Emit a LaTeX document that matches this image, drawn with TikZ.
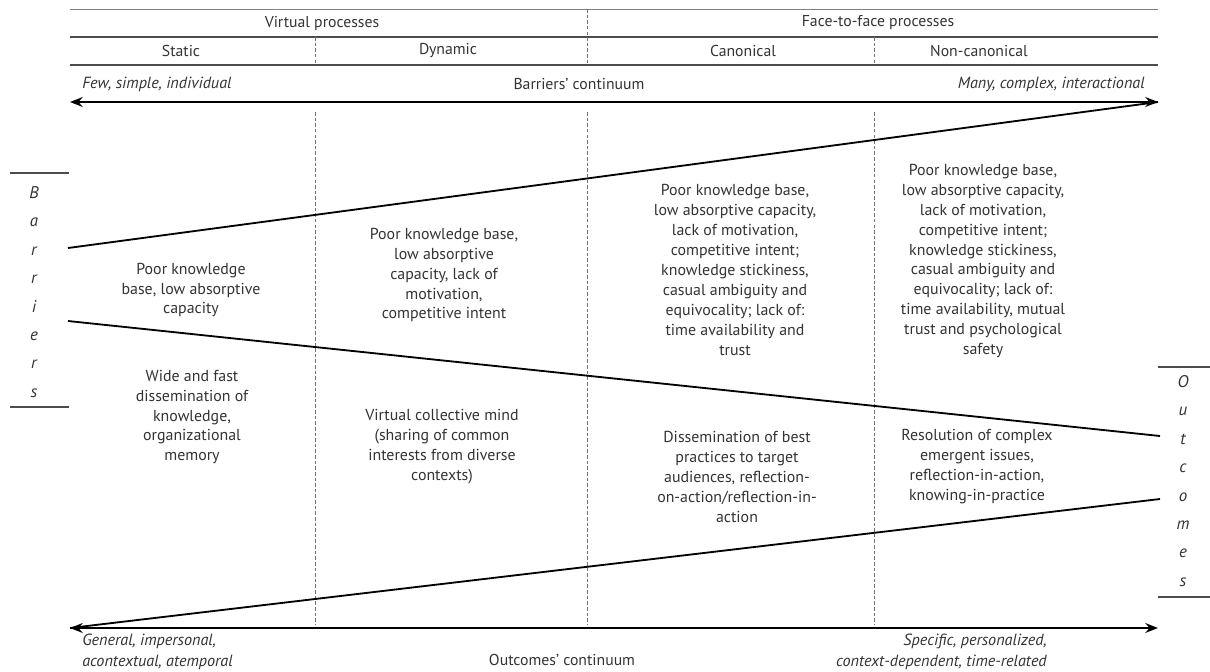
\documentclass[tikz,border=0pt]{standalone}
\usepackage{fontspec}
\setmainfont{PT Sans}
\usepackage{tikz}
\usetikzlibrary{arrows.meta}

\begin{document}
\begin{tikzpicture}[x=0.025cm, y=-0.025cm,
	rule/.style={draw=black!70, line width=0.9pt},
	sep/.style={draw=black!55, line width=0.6pt, dash pattern=on 2.5pt off 1.5pt},
	funnel/.style={draw=black, line width=1.3pt},
	arr/.style={{Stealth[length=9pt,width=7pt]}-{Stealth[length=9pt,width=7pt]}, line width=1.3pt},
	head/.style={text=black!80, font=\fontsize{11.2}{13}\selectfont},
	cell/.style={align=center, text=black!80, font=\fontsize{11.3}{14.2}\selectfont},
	side/.style={align=center, text=black!80, font=\fontsize{12}{20.2}\selectfont\itshape},
	pole/.style={text=black!80, font=\fontsize{11.5}{14.5}\selectfont\itshape, inner sep=0pt}]

	\useasboundingbox (0,0) rectangle (1210,671);

	\draw [rule, draw=black!50, line width=0.6pt] (70,9) -- (1158,9);
	\draw [rule] (70,37) -- (1158,37);
	\draw [rule] (70,65) -- (1158,65);
	\draw [sep] (587,9) -- (587,65);
	\draw [sep] (315,37) -- (315,65);
	\draw [sep] (874,37) -- (874,65);

	\node [head] (virtual) at (322,23) {Virtual processes};
	\node [head] (face) at (878,23) {Face-to-face processes};
	\node [head] (static) at (181,51) {Static};
	\node [head] (dynamic) at (448,51) {Dynamic};
	\node [head] (canon) at (743,51) {Canonical};
	\node [head] (noncanon) at (979,51) {Non-canonical};

	\node [head] (bcont) at (579,84) {Barriers' continuum};
	\node [pole, anchor=west] (few) at (82,84) {Few, simple, individual};
	\node [pole, anchor=east] (many) at (1145,84) {Many, complex, interactional};

	\coordinate (bl) at (70,102);
	\coordinate (br) at (1158,102);
	\coordinate (ol) at (70,628);
	\coordinate (or) at (1158,628);
	\coordinate (btop) at (68,248);
	\coordinate (bbot) at (68,321);
	\coordinate (otop) at (1160,436);
	\coordinate (obot) at (1160,499);

	\draw [sep] (315,112) -- (315,624);
	\draw [sep] (587,112) -- (587,624);
	\draw [sep] (874,112) -- (874,624);

	\draw [arr] (bl) -- (br);
	\draw [arr] (ol) -- (or);
	\draw [funnel] (btop) -- (br);
	\draw [funnel] (bbot) -- (otop);
	\draw [funnel] (obot) -- (ol);

	\node [side] (barriers) at (34,292) {B\\a\\r\\r\\i\\e\\r\\s};
	\draw [rule] (10,173) -- (69,173);
	\draw [rule] (10,407) -- (69,407);
	\node [side] (outcomes) at (1183,481) {O\\u\\t\\c\\o\\m\\e\\s};
	\draw [rule] (1158,367) -- (1210,367);
	\draw [rule] (1158,597) -- (1210,597);

	\node [cell] (bstatic) at (191,290) {Poor knowledge\\base, low absorptive\\capacity};
	\node [cell] (bdynamic) at (444,275) {Poor knowledge base,\\low absorptive\\capacity, lack of\\motivation,\\competitive intent};
	\node [cell] (bcanon) at (735,270) {Poor knowledge base,\\low absorptive capacity,\\lack of motivation,\\competitive intent;\\knowledge stickiness,\\casual ambiguity and\\equivocality; lack of:\\time availability and\\trust};
	\node [cell] (bnoncanon) at (983,261) {Poor knowledge base,\\low absorptive capacity,\\lack of motivation,\\competitive intent;\\knowledge stickiness,\\casual ambiguity and\\equivocality; lack of:\\time availability, mutual\\trust and psychological\\safety};

	\node [cell] (ostatic) at (192,417) {Wide and fast\\dissemination of\\knowledge,\\organizational\\memory};
	\node [cell] (odynamic) at (442,447) {Virtual collective mind\\(sharing of common\\interests from diverse\\contexts)};
	\node [cell] (ocanon) at (737,477) {Dissemination of best\\practices to target\\audiences, reflection-\\on-action/reflection-in-\\action};
	\node [cell] (ononcanon) at (977,467) {Resolution of complex\\emergent issues,\\reflection-in-action,\\knowing-in-practice};

	\node [pole, anchor=west, align=left] (general) at (82,652) {General, impersonal,\\acontextual, atemporal};
	\node [head] (ocont) at (562,660) {Outcomes' continuum};
	\node [pole, anchor=east, align=right] (specific) at (1047,652) {Specific, personalized,\\context-dependent, time-related};
\end{tikzpicture}
\end{document}
